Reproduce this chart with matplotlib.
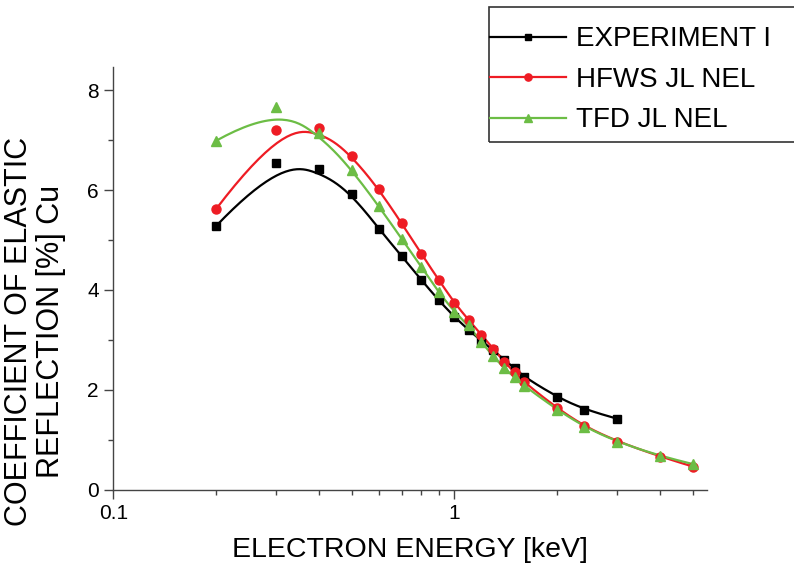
import matplotlib
matplotlib.use('Agg')
import matplotlib.pyplot as plt
import matplotlib.patches as patches
import numpy as np

plt.rcParams['font.family'] = ['Liberation Sans', 'DejaVu Sans']

# energies in keV
x_exp = [0.2, 0.3, 0.4, 0.5, 0.6, 0.7, 0.8, 0.9, 1.0, 1.1, 1.2, 1.3, 1.4, 1.5, 1.6, 2.0, 2.4, 3.0]
y_exp = [5.28, 6.54, 6.42, 5.92, 5.23, 4.68, 4.20, 3.79, 3.46, 3.20, 2.98, 2.79, 2.60, 2.43, 2.26, 1.85, 1.60, 1.42]

x_model = [0.2, 0.3, 0.4, 0.5, 0.6, 0.7, 0.8, 0.9, 1.0, 1.1, 1.2, 1.3, 1.4, 1.5, 1.6, 2.0, 2.4, 3.0, 4.0, 5.0]
y_hfws = [5.62, 7.20, 7.25, 6.69, 6.02, 5.34, 4.72, 4.20, 3.74, 3.40, 3.10, 2.82, 2.56, 2.35, 2.15, 1.63, 1.27, 0.96, 0.66, 0.46]
y_tfd = [6.99, 7.66, 7.14, 6.41, 5.68, 5.03, 4.46, 3.95, 3.56, 3.29, 2.95, 2.67, 2.43, 2.25, 2.08, 1.60, 1.26, 0.95, 0.67, 0.51]

labels = ['EXPERIMENT I', 'HFWS JL NEL', 'TFD JL NEL']
colors = ['black', '#ee1c24', '#6cbd45']
markers = ['s', 'o', '^']
msizes = [6, 6.5, 7.5]


def bspline(x, y, k=3, n=600):
    # clamped cubic B-spline, data points used as control points (log x)
    P = np.column_stack([np.log10(x), y])
    m = len(P)
    kn = np.r_[np.zeros(k), np.linspace(0, 1, m - k + 1), np.ones(k)]
    t = np.linspace(0, 1, n)
    t[-1] -= 1e-9
    B = np.array([(kn[i] <= t) & (t < kn[i + 1]) for i in range(len(kn) - 1)], float)
    for p in range(1, k + 1):
        Bn = np.zeros((len(kn) - 1 - p, n))
        for i in range(len(kn) - 1 - p):
            d1 = kn[i + p] - kn[i]
            d2 = kn[i + p + 1] - kn[i + 1]
            a = (t - kn[i]) / d1 * B[i] if d1 > 0 else 0
            b = (kn[i + p + 1] - t) / d2 * B[i + 1] if d2 > 0 else 0
            Bn[i] = a + b
        B = Bn
    C = B.T @ P
    return 10 ** C[:, 0], C[:, 1]


fig = plt.figure(figsize=(7.94, 5.71), dpi=100)
ax = fig.add_axes([113.3 / 794, 1 - 489.5 / 571, (707 - 113.3) / 794, (489.5 - 67) / 571])

series = [(x_exp, y_exp), (x_model, y_hfws), (x_model, y_tfd)]
for (xs, ys), lab, c, mk, ms in zip(series, labels, colors, markers, msizes):
    sx, sy = bspline(xs, ys)
    ax.plot(sx, sy, color=c, lw=1.6, zorder=2)
    ax.plot(xs, ys, linestyle='none', marker=mk, ms=ms, color=c, zorder=3)

ax.set_xscale('log')
ax.set_xlim(0.1, 5.5)
ax.set_ylim(0, 8.47)

ax.set_xticks([0.1, 1])
ax.set_xticklabels(['0.1', '1'])
ax.set_xticks([0.2, 0.3, 0.4, 0.5, 0.6, 0.7, 0.8, 0.9, 2, 3, 4, 5], minor=True)
ax.xaxis.set_minor_formatter(matplotlib.ticker.NullFormatter())
ax.set_yticks([0, 2, 4, 6, 8])
ax.set_yticks([1, 3, 5, 7], minor=True)

for s in ['top', 'right']:
    ax.spines[s].set_visible(False)
for s in ['left', 'bottom']:
    ax.spines[s].set_color('#444444')
    ax.spines[s].set_linewidth(1.0)

ax.tick_params(which='major', direction='out', length=6.5, width=1, color='#444444',
               labelsize=15, pad=4)
ax.tick_params(which='minor', direction='out', length=3.5, width=1, color='#444444')

ax.set_xlabel('ELECTRON ENERGY [keV]', fontsize=20.5, labelpad=10)
ax.set_ylabel('COEFFICIENT OF ELASTIC\nREFLECTION [%] Cu', fontsize=22, linespacing=1.1)
ax.yaxis.set_label_coords(-0.08, 0.375)

# legend box runs off the right edge
fig.patches.append(patches.Rectangle((489 / 794, 1 - 142 / 571), 0.5, 135 / 571,
                                     transform=fig.transFigure, fill=False,
                                     edgecolor='#333333', lw=1.2))
handles = [plt.Line2D([], [], color=c, marker=mk, ms=ms * 0.8, lw=1.6)
           for c, mk, ms in zip(colors, markers, msizes)]
fig.legend(handles, labels, loc='upper left', bbox_to_anchor=(490 / 794, 1 - 26.5 / 571),
           frameon=False, fontsize=20, borderpad=0, borderaxespad=0, handlelength=2.75,
           handletextpad=0.35, labelspacing=0.52)

fig.savefig('out.png', dpi=100)
